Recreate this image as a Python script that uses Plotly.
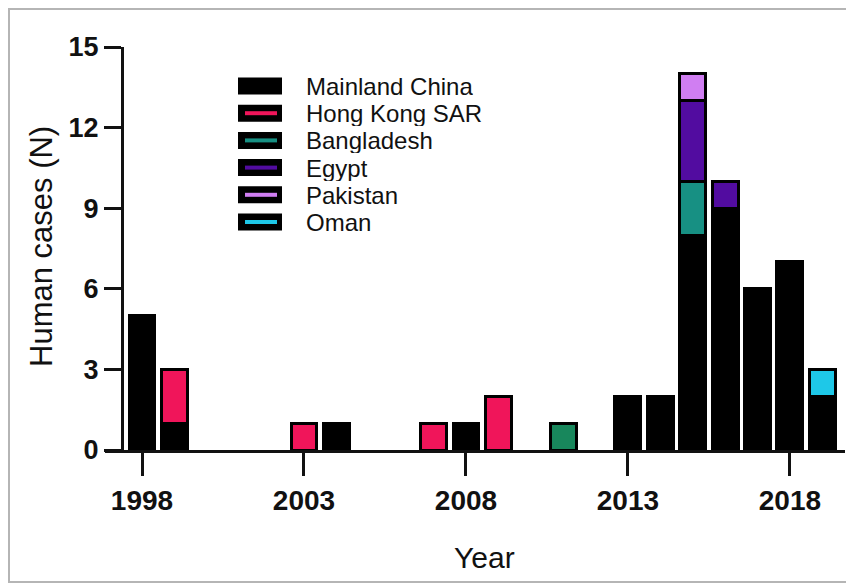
import plotly.graph_objects as go

years = list(range(1998, 2020))
mainland_china = [5, 1, None, None, None, None, 1, None, None, None, 1, None, None, None, None, 2, 2, 8, 9, 6, 7, 2]
hong_kong_sar  = [None, 2, None, None, None, 1, None, None, None, 1, None, 2, None, None, None, None, None, None, None, None, None, None]
bangladesh     = [None, None, None, None, None, None, None, None, None, None, None, None, None, 1, None, None, None, 2, None, None, None, None]
egypt          = [None, None, None, None, None, None, None, None, None, None, None, None, None, None, None, None, None, 3, 1, None, None, None]
pakistan       = [None, None, None, None, None, None, None, None, None, None, None, None, None, None, None, None, None, 1, None, None, None, None]
oman           = [None, None, None, None, None, None, None, None, None, None, None, None, None, None, None, None, None, None, None, None, None, 1]

series_names = ["Mainland China", "Hong Kong SAR", "Bangladesh", "Egypt", "Pakistan", "Oman"]
series_values = [mainland_china, hong_kong_sar, bangladesh, egypt, pakistan, oman]
series_colors = ["#000000", "#f0155a", "#179083", "#520ca0", "#d07ef2", "#1ec8e8"]

tick_years = [1998, 2003, 2008, 2013, 2018]
y_ticks = [0, 3, 6, 9, 12, 15]

FONT = "Arial, Liberation Sans, sans-serif"

# plot-area geometry (screen px) used to convert layout positions to paper coords
PX_L, PX_R, PX_T, PX_B = 105, 845, 47, 450
def px(sx):
    return (sx - PX_L) / (PX_R - PX_L)
def py(sy):
    return (PX_B - sy) / (PX_B - PX_T)

fig = go.Figure()
for name, vals, col in zip(series_names, series_values, series_colors):
    bar_colors = col
    if name == "Bangladesh":
        # the 2011 bar is printed in a greener shade in the original
        bar_colors = ["#18875c" if yr == 2011 else col for yr in years]
    fig.add_trace(go.Bar(
        x=years, y=vals, name=name, showlegend=False,
        marker=dict(color=bar_colors, line=dict(color="#000000", width=3)),
    ))

# custom legend (swatches + labels) in Prism style
shapes = []
annotations = []
for i, (name, col) in enumerate(zip(series_names, series_colors)):
    cy = 86 + i * 27.2
    shapes.append(dict(type="rect", xref="paper", yref="paper",
                       x0=px(238), x1=px(282), y0=py(cy + 8.5), y1=py(cy - 8.5),
                       fillcolor="#000000", line=dict(width=0)))
    shapes.append(dict(type="rect", xref="paper", yref="paper",
                       x0=px(245), x1=px(277), y0=py(cy + 2), y1=py(cy - 2),
                       fillcolor=col, line=dict(width=0)))
    annotations.append(dict(text=name, xref="paper", yref="paper",
                            x=px(304), y=py(cy), xanchor="left", yanchor="middle",
                            height=26, valign="middle",
                            showarrow=False, font=dict(size=24, family=FONT, color="#111111")))

# axis titles
annotations.append(dict(text="Human cases (N)", xref="paper", yref="paper",
                        x=px(41), y=py(247), textangle=-90, xanchor="center", yanchor="middle",
                        showarrow=False, font=dict(size=31, family=FONT, color="#111111")))
annotations.append(dict(text="Year", xref="paper", yref="paper",
                        x=px(484), y=py(557), xanchor="center", yanchor="middle",
                        showarrow=False, font=dict(size=30, family=FONT, color="#111111")))

# outer frame
shapes.append(dict(type="rect", xref="paper", yref="paper",
                   x0=px(9), x1=px(850), y0=py(582), y1=py(9),
                   line=dict(color="#b5b5b5", width=2)))

fig.update_layout(
    width=846, height=577,
    barmode="stack", bargap=0.2,
    plot_bgcolor="white", paper_bgcolor="white",
    margin=dict(l=PX_L - 8, r=846 - (PX_R - 8), t=PX_T - 8, b=577 - (PX_B - 8)),
    font=dict(family=FONT, color="#111111"),
    showlegend=False,
    xaxis=dict(
        range=[1996.858, 2019.70],
        tickvals=tick_years, ticktext=[str(t) for t in tick_years],
        ticks="outside", ticklen=23, tickwidth=3, tickcolor="#111111",
        showline=True, linewidth=3, linecolor="#111111",
        showgrid=False, zeroline=False, automargin=False,
        tickfont=dict(size=28, family=FONT, weight="bold", color="#111111"),
    ),
    yaxis=dict(
        range=[0, 15], tickvals=y_ticks,
        anchor="free", position=px(122),
        ticks="outside", ticklen=17, tickwidth=3, tickcolor="#111111",
        showline=True, linewidth=3, linecolor="#111111",
        showgrid=False, zeroline=False, automargin=False,
        tickfont=dict(size=27, family=FONT, weight="bold", color="#111111"),
    ),
    shapes=shapes,
    annotations=annotations,
)

fig.write_html("out.html")
